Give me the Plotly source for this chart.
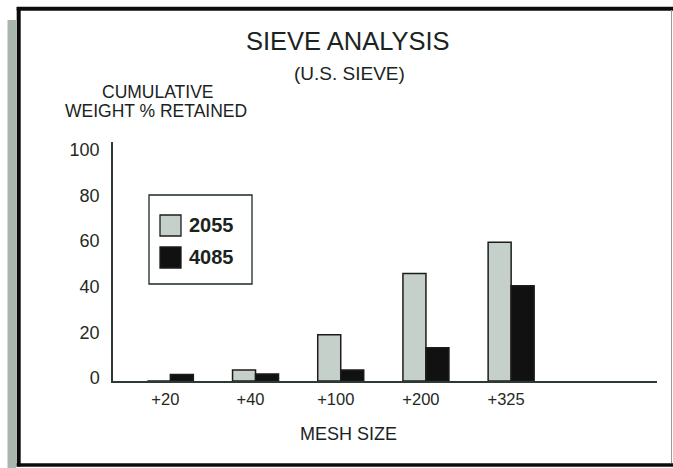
import plotly.graph_objects as go

# ---- data ----
mesh_sizes = ["+20", "+40", "+100", "+200", "+325"]
series_2055 = [0, 4.8, 20.3, 47.1, 60.8]
series_4085 = [2.9, 3.1, 4.8, 14.6, 41.8]
y_ticks = [0, 20, 40, 60, 80, 100]

W, H = 673, 468
L, R, T, B = 113, 16, 142, 87
PW, PH = W - L - R, H - T - B

def px(x):
    return (x - L) / PW

def py(y):
    return (H - B - y) / PH

FONT = "Liberation Sans, Arial, Helvetica, sans-serif"
GREY = "#c6d0ca"
BLACK = "#111111"
AXIS = "#2c3a32"

fig = go.Figure()
fig.add_trace(go.Bar(x=mesh_sizes, y=series_2055, name="2055",
                     marker=dict(color=GREY, line=dict(color="#1c1c1c", width=1.5)),
                     showlegend=False))
fig.add_trace(go.Bar(x=mesh_sizes, y=series_4085, name="4085",
                     marker=dict(color=BLACK, line=dict(color="#1c1c1c", width=1.5)),
                     showlegend=False))

fig.update_layout(
    width=W, height=H,
    margin=dict(l=L, r=R, t=T, b=B, pad=0),
    paper_bgcolor="white", plot_bgcolor="white",
    barmode="group", bargap=0.46, bargroupgap=0,
    font=dict(family=FONT, color="#1e2a22"),
    xaxis=dict(type="category", range=[-0.673, 5.712], showgrid=False, zeroline=False,
               showline=True, linecolor=AXIS, linewidth=1.5, ticks="",
               tickfont=dict(size=16.5, color="#1e2a22"), ticklabelshift=-5,
               ticklabelstandoff=2),
    yaxis=dict(range=[0, 104.8], tickvals=y_ticks, showgrid=False, zeroline=False,
               showline=True, linecolor=AXIS, linewidth=1.5, ticks="",
               tickfont=dict(size=18, color="#1e2a22"), ticklabelstandoff=8,
               ticklabelshift=-3),
)

shapes = []
# left grey strip
shapes.append(dict(type="rect", xref="paper", yref="paper",
                   x0=px(7.5), x1=px(16), y0=py(20), y1=py(468),
                   fillcolor="#a9b6ae", line=dict(width=0), layer="below"))
# frame
shapes.append(dict(type="line", xref="paper", yref="paper", x0=px(18.7), x1=px(18.7),
                   y0=py(7), y1=py(466.5), line=dict(color="#0c0c0c", width=4)))
shapes.append(dict(type="line", xref="paper", yref="paper", x0=px(16.7), x1=px(673),
                   y0=py(8.8), y1=py(8.8), line=dict(color="#0c0c0c", width=4)))
shapes.append(dict(type="line", xref="paper", yref="paper", x0=px(16.7), x1=px(673),
                   y0=py(465), y1=py(465), line=dict(color="#0c0c0c", width=3.5)))
shapes.append(dict(type="line", xref="paper", yref="paper", x0=px(671.5), x1=px(671.5),
                   y0=py(10), y1=py(463), line=dict(color="#9a9a9a", width=1)))
# legend box
shapes.append(dict(type="rect", xref="paper", yref="paper",
                   x0=px(149), x1=px(252), y0=py(195), y1=py(284),
                   fillcolor="white", line=dict(color="#1c2a22", width=1.3)))
shapes.append(dict(type="rect", xref="paper", yref="paper",
                   x0=px(160), x1=px(181), y0=py(215), y1=py(236),
                   fillcolor=GREY, line=dict(color="#1c1c1c", width=1.3)))
shapes.append(dict(type="rect", xref="paper", yref="paper",
                   x0=px(160), x1=px(181), y0=py(247), y1=py(268),
                   fillcolor=BLACK, line=dict(color="#1c1c1c", width=1.3)))
fig.update_layout(shapes=shapes)

def ann(text, x, y, size, bold=False, xanchor="center"):
    return dict(text=("<b>%s</b>" % text) if bold else text, xref="paper", yref="paper",
                x=px(x), y=py(y), xanchor=xanchor, yanchor="middle", showarrow=False,
                font=dict(size=size, family=FONT, color="#1a241e"))

fig.update_layout(annotations=[
    ann("SIEVE ANALYSIS", 348, 41, 25.5),
    ann("(U.S. SIEVE)", 349, 74, 19),
    ann("CUMULATIVE", 158, 92, 17.5),
    ann("WEIGHT % RETAINED", 156, 111, 17.5),
    ann("MESH SIZE", 348, 434, 18),
    ann("2055", 187, 225, 20, bold=True, xanchor="left"),
    ann("4085", 187, 257, 20, bold=True, xanchor="left"),
])

fig.write_html("out.html", config={"displayModeBar": False},
               post_script="document.body.style.margin='0';document.body.style.overflow='hidden';")
